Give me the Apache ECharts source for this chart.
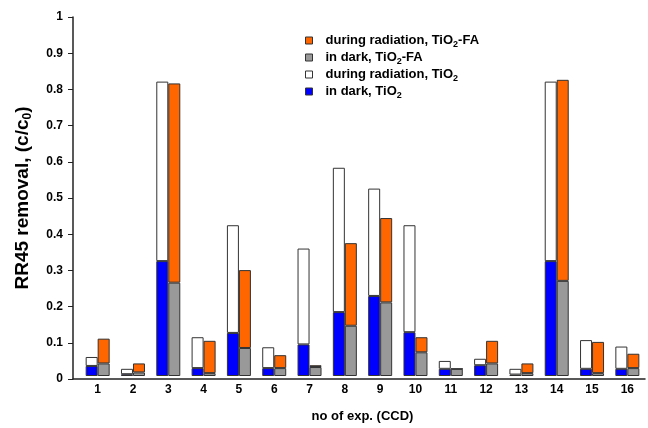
<!DOCTYPE html>
<html>
<head>
<meta charset="utf-8">
<script src="https://cdn.jsdelivr.net/npm/echarts@6/dist/echarts.min.js"></script>
<style>
  html, body { margin: 0; padding: 0; background: #fff; }
  #main { width: 648px; height: 428px; }
</style>
</head>
<body>
<div id="main"></div>
<script>
// experiments 1..16
var exps = ["1", "2", "3", "4", "5", "6", "7", "8", "9", "10", "11", "12", "13", "14", "15", "16"];
// TiO2
var tio2Dark = [0.028, 0.005, 0.32, 0.022, 0.12, 0.022, 0.088, 0.178, 0.223, 0.122, 0.02, 0.03, 0.004, 0.32, 0.02, 0.02];
var tio2Rad = [0.053, 0.02, 0.82, 0.108, 0.42, 0.08, 0.355, 0.58, 0.522, 0.42, 0.042, 0.048, 0.02, 0.82, 0.1, 0.082];
// TiO2-FA
var faDark = [0.035, 0.01, 0.26, 0.008, 0.078, 0.022, 0.025, 0.14, 0.205, 0.066, 0.02, 0.035, 0.008, 0.265, 0.008, 0.022];
var faRad = [0.104, 0.035, 0.815, 0.098, 0.295, 0.058, 0.03, 0.37, 0.44, 0.108, 0.02, 0.098, 0.035, 0.825, 0.095, 0.062];

var font = "Liberation Sans, Arial, sans-serif";
var edge = "#333";

// stacked: dark part at the bottom, rest of the radiation value on top
function diff(total, part) {
  return total.map(function (v, i) { return +(v - part[i]).toFixed(4); });
}

var myChart = echarts.init(document.getElementById("main"));

var sub = { fontSize: 9, fontWeight: "bold", fontFamily: font, color: "#000", padding: [8, 0, 0, 0], lineHeight: 14 };
var txt = { fontSize: 13, fontWeight: "bold", fontFamily: font, color: "#000", lineHeight: 14 };

var legendNames = {
  faRad: "{t|during radiation, TiO}{s|2}{t|-FA}",
  faDark: "{t|in dark, TiO}{s|2}{t|-FA}",
  tiRad: "{t|during radiation, TiO}{s|2}",
  tiDark: "{t|in dark, TiO}{s|2}"
};

function barSeries(name, stack, color, data) {
  return {
    name: name,
    type: "bar",
    stack: stack,
    barWidth: 12,
    barGap: "0%",
    data: data,
    itemStyle: { color: color, borderColor: edge, borderWidth: 1 },
    emphasis: { disabled: true }
  };
}

var yAxisBase = { type: "value", min: 0, max: 1, interval: 0.1, splitLine: { show: false } };

var option = {
  animation: false,
  grid: [
    { left: 80, right: 3, top: 17, bottom: 49 }, // bars
    { left: 73, right: 3, top: 17, bottom: 49 }  // axis frame
  ],
  legend: {
    orient: "vertical",
    left: 300,
    top: 27,
    itemWidth: 7,
    itemHeight: 7,
    itemGap: 0,
    icon: "rect",
    data: ["faRad", "faDark", "tiRad", "tiDark"],
    itemStyle: { borderColor: edge, borderWidth: 1 },
    formatter: function (n) { return legendNames[n]; },
    textStyle: { padding: [0, 0, 0, 8], rich: { t: txt, s: sub } }
  },
  xAxis: [
    {
      type: "category",
      gridIndex: 0,
      data: exps,
      name: "no of exp. (CCD)",
      nameLocation: "middle",
      nameGap: 34,
      nameTextStyle: { fontSize: 13, fontWeight: "bold", fontFamily: font, color: "#000" },
      axisLine: { show: false },
      axisTick: { show: false },
      axisLabel: { margin: 8, fontSize: 12, fontWeight: "bold", fontFamily: font, color: "#000" }
    },
    {
      type: "value",
      gridIndex: 1,
      min: 0,
      max: 1,
      splitLine: { show: false },
      axisLine: { lineStyle: { color: "#222", width: 1.5 } },
      axisTick: { show: false },
      axisLabel: { show: false }
    }
  ],
  yAxis: [
    Object.assign({ gridIndex: 0, show: false }, yAxisBase),
    Object.assign({
      gridIndex: 1,
      name: "{n|RR45 removal, (c/c}{s|0}{n|)}",
      nameLocation: "middle",
      nameGap: 39,
      nameTextStyle: {
        rich: {
          n: { fontSize: 19, fontWeight: "bold", fontFamily: font, color: "#000" },
          s: { fontSize: 12, fontWeight: "bold", fontFamily: font, color: "#000", padding: [10, 0, 0, 0] }
        }
      },
      axisLine: { show: true, lineStyle: { color: "#222", width: 1.5 } },
      axisTick: { show: true, inside: false, length: 5, lineStyle: { color: "#222" } },
      axisLabel: { margin: 10, fontSize: 12, fontWeight: "bold", fontFamily: font, color: "#000" }
    }, yAxisBase)
  ],
  series: [
    barSeries("tiDark", "tio2", "#0000ff", tio2Dark),
    barSeries("faDark", "fa", "#999999", faDark),
    barSeries("tiRad", "tio2", "#ffffff", diff(tio2Rad, tio2Dark)),
    barSeries("faRad", "fa", "#ff6600", diff(faRad, faDark))
  ]
};

myChart.setOption(option);
</script>
</body>
</html>
